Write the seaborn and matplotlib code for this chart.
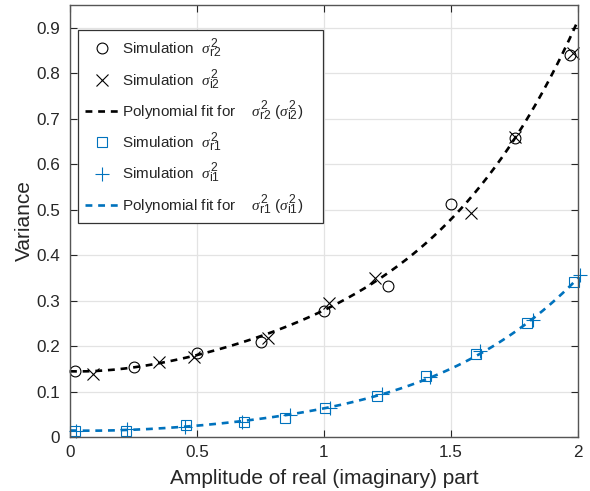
import numpy as np
import pandas as pd
import matplotlib
matplotlib.use("Agg")
import matplotlib.pyplot as plt
import matplotlib._mathtext as _mt
import seaborn as sns

# ---- data ----
x_r2 = [0.02, 0.25, 0.50, 0.75, 1.00, 1.25, 1.50, 1.75, 1.97]
y_r2 = [0.145, 0.155, 0.184, 0.208, 0.277, 0.332, 0.512, 0.658, 0.840]

x_i2 = [0.09, 0.35, 0.49, 0.78, 1.02, 1.20, 1.58, 1.75, 1.98]
y_i2 = [0.138, 0.166, 0.176, 0.218, 0.294, 0.349, 0.493, 0.660, 0.845]

x_r1 = [0.02, 0.22, 0.455, 0.685, 0.845, 1.005, 1.21, 1.40, 1.60, 1.80, 1.985]
y_r1 = [0.014, 0.014, 0.026, 0.034, 0.042, 0.064, 0.090, 0.134, 0.182, 0.250, 0.341]

x_i1 = [0.025, 0.223, 0.453, 0.676, 0.866, 1.024, 1.227, 1.417, 1.614, 1.824, 2.008]
y_i1 = [0.014, 0.017, 0.023, 0.034, 0.048, 0.064, 0.094, 0.132, 0.189, 0.257, 0.356]

# points on the drawn polynomial-fit curves
fit_x = [0.0, 0.25, 0.5, 1.0, 1.25, 1.5, 1.75, 2.0]
fit_y2 = [0.145, 0.152, 0.180, 0.283, 0.356, 0.477, 0.659, 0.915]
fit_y1 = [0.014, 0.017, 0.024, 0.064, 0.095, 0.154, 0.228, 0.350]

x_ticks = [0, 0.5, 1, 1.5, 2]
x_tick_labels = ["0", "0.5", "1", "1.5", "2"]
y_ticks = [0, 0.1, 0.2, 0.3, 0.4, 0.5, 0.6, 0.7, 0.8, 0.9]
y_tick_labels = ["0", "0.1", "0.2", "0.3", "0.4", "0.5", "0.6", "0.7", "0.8", "0.9"]

fit_degree = 4

# ---- style ----
sns.set_style("whitegrid")
plt.rcParams["font.family"] = ["Liberation Sans", "DejaVu Sans"]
plt.rcParams["mathtext.fontset"] = "custom"
plt.rcParams["mathtext.rm"] = "Liberation Sans"
plt.rcParams["mathtext.it"] = "Liberation Serif:italic"
plt.rcParams["mathtext.bf"] = "Liberation Sans:bold"
_mt.SHRINK_FACTOR = 0.8  # larger super/subscripts, like TeX-interpreted MATLAB legends

BLUE = "#0072BD"

fig = plt.figure(figsize=(5.9, 4.91), dpi=100)
ax = fig.add_axes([70 / 590, 1 - 437 / 491, 508 / 590, 432 / 491])

# polynomial fit curves
xf = np.linspace(0, 2, 300)
c2 = np.polyfit(fit_x, fit_y2, fit_degree)
c1 = np.polyfit(fit_x, fit_y1, fit_degree)
fit2 = pd.DataFrame({"x": xf, "y": np.polyval(c2, xf)})
fit1 = pd.DataFrame({"x": xf, "y": np.polyval(c1, xf)})

lw = 1.9
dash = (2.6, 2.2)

mk = dict(estimator=None, sort=False, linestyle="", clip_on=False, ax=ax)

sns.lineplot(x=x_r2, y=y_r2, marker="o", markersize=7.8, markerfacecolor="none",
             markeredgecolor="k", markeredgewidth=0.8, color="k",
             label=r"Simulation  $\sigma^2_{\mathrm{r2}}$", **mk)
sns.lineplot(x=x_i2, y=y_i2, marker="x", markersize=8.2,
             markeredgecolor="k", markeredgewidth=0.8, color="k",
             label=r"Simulation  $\sigma^2_{\mathrm{i2}}$", **mk)
sns.lineplot(data=fit2, x="x", y="y", color="k", linewidth=lw,
             ax=ax, label=r"Polynomial fit for    $\sigma^2_{\mathrm{r2}}$ ($\sigma^2_{\mathrm{i2}}$)    ")
sns.lineplot(x=x_r1, y=y_r1, marker="s", markersize=6.8, markerfacecolor="none",
             markeredgecolor=BLUE, markeredgewidth=0.8, color=BLUE,
             label=r"Simulation  $\sigma^2_{\mathrm{r1}}$", **mk)
sns.lineplot(x=x_i1, y=y_i1, marker="+", markersize=10.5,
             markeredgecolor=BLUE, markeredgewidth=0.8, color=BLUE,
             label=r"Simulation  $\sigma^2_{\mathrm{i1}}$", **mk)
sns.lineplot(data=fit1, x="x", y="y", color=BLUE, linewidth=lw,
             ax=ax, label=r"Polynomial fit for    $\sigma^2_{\mathrm{r1}}$ ($\sigma^2_{\mathrm{i1}}$)    ")

for ln in ax.get_lines():
    if ln.get_linestyle() == "-":
        ln.set_dashes(dash)

ax.set_xlim(0, 2)
ax.set_ylim(0, 0.95)
ax.set_xticks(x_ticks)
ax.set_xticklabels(x_tick_labels)
ax.set_yticks(y_ticks)
ax.set_yticklabels(y_tick_labels)
ax.tick_params(direction="in", length=5, width=0.8, colors="#262626",
               labelsize=12.3, top=True, right=True, bottom=True, left=True,
               labelcolor="#262626")
ax.tick_params(axis="x", pad=6)
ax.tick_params(axis="y", pad=7)
ax.grid(True, color="#e3e3e3", linewidth=0.9)
for s in ax.spines.values():
    s.set_color("#555555")
    s.set_linewidth(1.0)
ax.set_xlabel("Amplitude of real (imaginary) part", fontsize=15, color="#262626", labelpad=6)
ax.set_ylabel("Variance", fontsize=15, color="#262626", labelpad=2)

leg = ax.legend(loc="upper left", bbox_to_anchor=(0.016, 0.943), fontsize=11,
                frameon=True, fancybox=False, framealpha=1, edgecolor="#333333",
                handlelength=2.3, handletextpad=0.15, labelspacing=0.45,
                borderpad=0.42, borderaxespad=0)
leg.get_frame().set_linewidth(0.9)
for h in leg.get_lines():
    if h.get_linestyle() != "None":
        h.set_dashes(dash)

fig.savefig("out.png", dpi=100)
